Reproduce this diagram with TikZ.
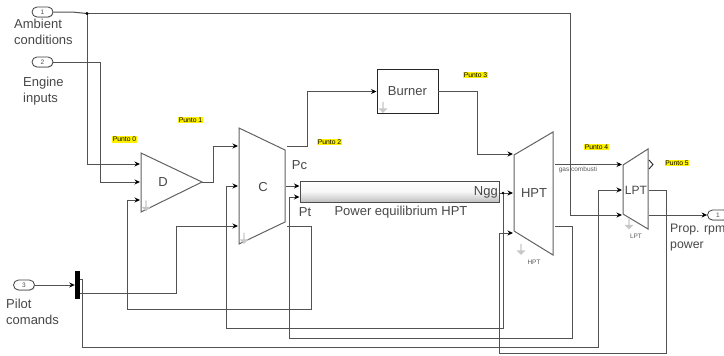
\documentclass[tikz,border=0pt]{standalone}
\usepackage{fontspec}
\setmainfont{Liberation Sans}
\usepackage{tikz}
\usetikzlibrary{arrows.meta,shapes.misc,shapes.arrows,shadows}

\begin{document}
\begin{tikzpicture}[
  x=1pt,y=-1pt,
  wire/.style={draw=black!68,line width=1pt},
  awire/.style={wire,-{Stealth[length=5.5pt,width=5pt,black]}},
  block/.style={draw=black!62,line width=1pt},
  port/.style={rounded rectangle,draw=black!75,line width=0.8pt,fill=white,minimum width=21pt,minimum height=10pt,inner sep=0pt,font=\fontsize{6.5}{7}\selectfont,text=black!70,drop shadow={shadow xshift=0.6pt,shadow yshift=-0.8pt,opacity=0.35}},
  lab/.style={anchor=west,align=left,inner sep=0pt,text=black!72,font=\fontsize{13}{16}\selectfont},
  tag/.style={fill=yellow,inner sep=0.6pt,font=\fontsize{6.8}{8}\selectfont},
  smalltxt/.style={inner sep=0pt,text=black!65,font=\fontsize{6.5}{8}\selectfont},
  blocktxt/.style={inner sep=0pt,text=black!72,font=\fontsize{13}{16}\selectfont},
  sysmark/.style={single arrow,shape border rotate=270,fill=black!22,minimum width=9pt,minimum height=11pt,single arrow head extend=1.5pt,inner sep=0pt}]
  \useasboundingbox (0,0) rectangle (724,356);
  % Ports and their texts
  \node[port] (in1) at (42.5,12) {1};
  \node[port] (in2) at (42.5,62) {2};
  \node[port] (in3) at (24,285) {3};
  \node[port] (out1) at (718,215) {1};
  \node[lab] (ambient) at (14,32) {Ambient\\conditions};
  \node[lab] (engine) at (23,91) {Engine\\inputs};
  \node[lab] (pilot) at (6,312) {Pilot\\comands};
  \node[lab,font=\fontsize{12.3}{16}\selectfont] (prop) at (670,238) {Prop. rpm\\power};
  % Blocks
  \draw[block] (141,153) -- (202,182) -- (141,212) -- cycle;
  \node[blocktxt] (D) at (163,182) {D};
  \draw[block] (239,128) -- (285,150) -- (285,222) -- (239,244) -- cycle;
  \node[blocktxt] (C) at (263,187) {C};
  \draw[block] (514,155) -- (553,132) -- (553,255) -- (514,231) -- cycle;
  \node[blocktxt] (HPT) at (534,193) {HPT};
  \draw[block] (623,165) -- (648,149) -- (648,229) -- (623,214) -- cycle;
  \node[blocktxt,font=\fontsize{12}{16}\selectfont] (LPT) at (636,190) {LPT};
  \node[draw=black!85,line width=0.9pt,fill=white,minimum width=61pt,minimum height=44pt,inner sep=0pt,text=black!72,font=\fontsize{13}{16}\selectfont,drop shadow={shadow xshift=0.8pt,shadow yshift=-0.8pt,opacity=0.35}] (burner) at (407.5,91.5) {Burner};
  \node[draw=black!70,line width=1pt,top color=white,bottom color=black!25,middle color=black!3,minimum width=199pt,minimum height=21pt,inner sep=0pt,drop shadow={shadow xshift=0.6pt,shadow yshift=-0.8pt,opacity=0.3}] (power) at (399.5,191.5) {};
  \node[blocktxt,anchor=east] (ngg) at (498,192) {Ngg};
  \node[fill=black,minimum width=5pt,minimum height=28pt,inner sep=0pt] (demux) at (77.5,285) {};
  % Block texts
  \node[blocktxt] (pc) at (299.5,165) {Pc};
  \node[blocktxt] (pt) at (305,212) {Pt};
  \node[blocktxt] (powerlab) at (401,212) {Power equilibrium HPT};
  \node[smalltxt] (gas) at (578,169.5) {gas combusti};
  \node[smalltxt] (hptlab) at (534,262) {HPT};
  \node[smalltxt] (lptlab) at (636,236.5) {LPT};
  \node[sysmark] (markD) at (146,205.5) {};
  \node[sysmark] (markC) at (244,238) {};
  \node[sysmark] (markB) at (383,107) {};
  \node[sysmark] (markH) at (521,249) {};
  \node[sysmark] (markL) at (629,223.5) {};
  % Yellow tags
  \node[tag] (p0) at (124.5,139.5) {Punto 0};
  \node[tag] (p1) at (190.5,120) {Punto 1};
  \node[tag] (p2) at (329.5,142) {Punto 2};
  \node[tag] (p3) at (475.5,75) {Punto 3};
  \node[tag] (p4) at (596.5,147) {Punto 4};
  \node[tag] (p5) at (677,163) {Punto 5};
  % Block ports
  \coordinate (dA) at (140,164);
  \coordinate (dB) at (140,182);
  \coordinate (dC) at (140,200);
  \coordinate (dOut) at (202,182);
  \coordinate (cA) at (238,146);
  \coordinate (cB) at (238,186);
  \coordinate (cC) at (238,226);
  \coordinate (cTop) at (287,146.5);
  \coordinate (cMid) at (286,186);
  \coordinate (cBot) at (287,226);
  \coordinate (pwA) at (299.5,186);
  \coordinate (pwB) at (299.5,197);
  \coordinate (pwOut) at (499.5,193);
  \coordinate (hA) at (513,154);
  \coordinate (hB) at (513,193);
  \coordinate (hC) at (513,233);
  \coordinate (hTop) at (555,164.5);
  \coordinate (hBot) at (555,226);
  \coordinate (lA) at (622,164.5);
  \coordinate (lB) at (622,190);
  \coordinate (lC) at (622,215);
  \coordinate (lTop) at (649,190);
  \coordinate (lBot) at (649,215);
  \coordinate (dmA) at (80,279);
  \coordinate (dmB) at (80,293);
  \coordinate (jn) at (87,13.5);
  \coordinate (jg) at (503,193);
  % Wires
  \draw[wire] (in1.east) -- (72,12) -- (jn);
  \draw[awire] (jn) -- (570,13.5) -- (570,215) -- (lC);
  \draw[awire] (jn) -- (87,164) -- (dA);
  \fill[black] (jn) circle (1.6pt);
  \draw[awire] (in2.east) -- (100,62) -- (100,182) -- (dB);
  \draw[awire] (in3.east) -- (demux.west);
  \draw[awire] (dmB) -- (176,293) -- (176,226) -- (cC);
  \draw[awire] (dmA) -- (82.5,279) -- (82.5,347) -- (598,347) -- (598,190) -- (lB);
  \draw[awire] (dOut) -- (213,182) -- (213,146) -- (cA);
  \draw[awire] (cBot) -- (311,226) -- (311,309) -- (127,309) -- (127,200) -- (dC);
  \draw[awire] (cTop) -- (307,146.5) -- (307,91.5) -- (burner.west);
  \draw[awire] (burner.east) -- (477,91.5) -- (477,154) -- (hA);
  \draw[awire] (cMid) -- (pwA);
  \draw[awire] (pwOut) -- (hB);
  \draw[awire] (jg) -- (503,328) -- (226,328) -- (226,186) -- (cB);
  \fill[black] (jg) circle (1.4pt);
  \draw[awire] (hBot) -- (572,226) -- (572,338.5) -- (289,338.5) -- (289,197) -- (pwB);
  \draw[awire] (hTop) -- (lA);
  \draw[awire] (lTop) -- (666,190) -- (666,353) -- (499.5,353) -- (499.5,233) -- (hC);
  \draw[awire] (lBot) -- (out1.west);
  % Output mark on LPT
  \coordinate (cvA) at (649,160);
  \coordinate (cvB) at (653,164.5);
  \coordinate (cvC) at (649,169);
  \draw[black!85,line width=0.9pt] (cvA) -- (cvB) -- (cvC);
\end{tikzpicture}
\end{document}
